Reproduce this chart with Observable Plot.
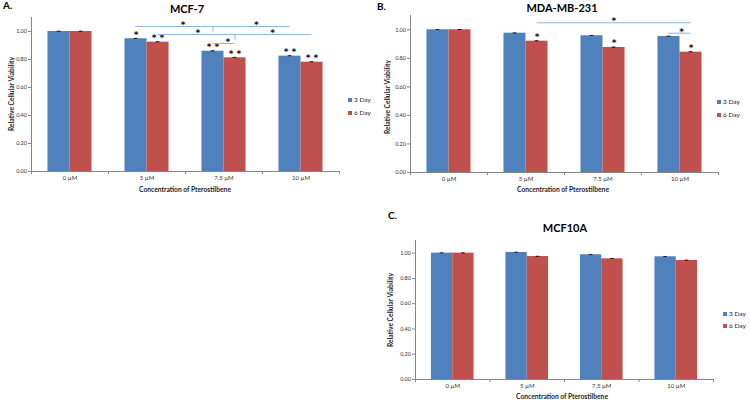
<!DOCTYPE html>
<html><head><meta charset="utf-8">
<script src="https://cdn.jsdelivr.net/npm/d3@7"></script>
<script src="https://cdn.jsdelivr.net/npm/@observablehq/plot@0.6"></script>
<style>
body{margin:0;background:#fff;}
#root{position:relative;width:750px;height:401px;overflow:hidden;font-family:Lato,"Liberation Sans",sans-serif;background:#fff;}
.panel{position:absolute;}
.t{position:absolute;white-space:nowrap;transform:translate(-50%,-50%);color:#000;line-height:1;}
.lt{position:absolute;white-space:nowrap;transform:translate(0,-50%);color:#222;font-size:6.5px;line-height:1;}
.sw{position:absolute;width:4px;height:4px;transform:translate(0,-50%);}
</style></head><body><div id="root"></div>
<script>
// ---- data ----
const concentrations = ["0 µM", "5 µM", "7.5 µM", "10 µM"];
const dayLabels = ["3 Day", "6 Day"];
const dayColors = ["#4f81bd", "#c0504d"];
const yTicks = [0, 0.2, 0.4, 0.6, 0.8, 1.0];
const yDomain = [0, 1.1];

// MCF-7
const mcf7Day3 = [1.000, 0.948, 0.859, 0.824];
const mcf7Day6 = [1.000, 0.924, 0.812, 0.781];
const mcf7Err3 = [0.002, 0.003, 0.003, 0.003];
const mcf7Err6 = [0.002, 0.003, 0.003, 0.003];
const mcf7Star3 = ["", "*", "**", "**"];
const mcf7Star6 = ["", "**", "**", "**"];
// brackets: [fromIndex, fromDay, toIndex, toDay, level, tipIndex, tipDay, tipLevel]
const mcf7Brackets = [
  [1, 0, 3, 0, 1.036, 2, 0, 0.995],
  [1, 1, 3, 1, 0.979, 2, 1, 0.936],
  [2, 0, 2, 1, 0.914, null, null, null]
];
// bracket stars: [x position (category units), level]
const mcf7BracketStars = [[1.47, 1.036], [2.42, 1.036], [1.66, 0.979], [2.63, 0.979], [2.05, 0.914]];

// MDA-MB-231
const mdaDay3 = [1.000, 0.976, 0.958, 0.953];
const mdaDay6 = [1.000, 0.920, 0.876, 0.843];
const mdaErr3 = [0.002, 0.002, 0.002, 0.002];
const mdaErr6 = [0.002, 0.003, 0.003, 0.003];
const mdaStar3 = ["", "", "", ""];
const mdaStar6 = ["", "*", "*", "*"];
const mdaBrackets = [
  [1, 1, 3, 1, 1.049, null, null, null],
  [3, 0, 3, 1, 0.976, null, null, null]
];
const mdaBracketStars = [[2.14, 1.049], [3.02, 0.976]];

// MCF10A
const mcf10aDay3 = [1.000, 1.005, 0.987, 0.971];
const mcf10aDay6 = [1.000, 0.973, 0.955, 0.942];
const mcf10aErr3 = [0.002, 0.002, 0.002, 0.002];
const mcf10aErr6 = [0.002, 0.002, 0.002, 0.002];
const mcf10aStar3 = ["", "", "", ""];
const mcf10aStar6 = ["", "", "", ""];

// ---- drawing ----
const root = document.getElementById("root");
const HALF = 0.286; // bar width in category units
const xDomain = [-0.5, concentrations.length - 0.5];
const edges = d3.range(concentrations.length + 1).map(i => i - 0.5);
const AXIS = "#868686";
const BRACKET = "#8db4e2";
const STARFONT = "'DejaVu Sans', sans-serif";
const center = (i, d) => i + (d === 0 ? -HALF / 2 : HALF / 2);

function makePanel(o) {
  const rows = [];
  concentrations.forEach((c, i) => {
    [o.day3, o.day6].forEach((arr, d) => {
      rows.push({i, d, day: dayLabels[d], value: arr[i],
        err: (d === 0 ? o.err3 : o.err6)[i],
        star: (d === 0 ? o.star3 : o.star6)[i]});
    });
  });
  const br = (o.brackets || []).map(b => ({x1: center(b[0], b[1]), x2: center(b[2], b[3]), y: b[4],
    tx: b[5] == null ? null : center(b[5], b[6]), ty: b[7]}));
  const tips = br.filter(b => b.tx != null);
  const bstars = (o.bstars || []).map(s => ({x: s[0], y: s[1]}));
  const svg = Plot.plot({
    width: o.width, height: o.height,
    marginLeft: o.m[0], marginRight: o.m[1], marginTop: o.m[2], marginBottom: o.m[3],
    style: {fontFamily: "Lato, 'Liberation Sans', sans-serif", fontSize: "6px", color: "#333", background: "transparent", overflow: "visible"},
    x: {type: "linear", domain: xDomain},
    y: {domain: yDomain},
    color: {domain: dayLabels, range: dayColors},
    marks: [
      Plot.rectY(rows, {x1: r => r.d === 0 ? r.i - HALF : r.i, x2: r => r.d === 0 ? r.i : r.i + HALF, y: "value", fill: "day"}),
      Plot.ruleX(rows, {x: r => center(r.i, r.d), y1: r => r.value - r.err, y2: r => r.value + r.err, stroke: "#000", strokeWidth: 0.8}),
      Plot.ruleY(rows, {y: r => r.value + r.err, x1: r => center(r.i, r.d) - 0.025, x2: r => center(r.i, r.d) + 0.025, stroke: "#000", strokeWidth: 0.8}),
      Plot.text(rows.filter(r => r.star), {x: r => center(r.i, r.d), y: r => r.value + r.err, text: r => r.star.split("").join(" "), dy: -3.5, fontSize: 9, fontWeight: "bold", fontFamily: STARFONT, fill: "#111", lineAnchor: "middle"}),
      Plot.ruleY(br, {x1: "x1", x2: "x2", y: "y", stroke: BRACKET, strokeWidth: 1}),
      Plot.ruleX(tips, {x: "tx", y1: "y", y2: "ty", stroke: BRACKET, strokeWidth: 1}),
      Plot.text(bstars, {x: "x", y: "y", text: () => "*", dy: -1.5, fontSize: 9, fontWeight: "bold", fontFamily: STARFONT, fill: "#111", lineAnchor: "middle"}),
      Plot.ruleY([0], {stroke: AXIS}),
      Plot.ruleX([xDomain[0]], {stroke: AXIS}),
      Plot.axisY({ticks: yTicks, tickFormat: d3.format(".2f"), tickSize: 3, tickPadding: 1.5, stroke: AXIS, label: null, fontSize: 5.5}),
      Plot.axisX({ticks: edges, tickFormat: () => "", tickSize: 3, stroke: AXIS, label: null}),
      Plot.axisX({ticks: d3.range(concentrations.length), tickFormat: i => concentrations[i], tickSize: 0, tickPadding: 4, label: null, fontSize: 6})
    ]
  });
  svg.classList.add("panel");
  svg.style.left = o.left + "px";
  svg.style.top = o.top + "px";
  root.appendChild(svg);

  const addText = (x, y, txt, css, cls = "t") => {
    const el = document.createElement("div");
    el.className = cls;
    el.textContent = txt;
    el.style.left = x + "px";
    el.style.top = y + "px";
    Object.assign(el.style, css);
    root.appendChild(el);
  };
  addText(o.letter[0], o.letter[1], o.letter[2], {fontWeight: "bold", fontSize: "10px", transform: "translate(0,-50%)"});
  addText(o.title[0], o.title[1], o.title[2], {fontWeight: "bold", fontSize: "11px"});
  addText(o.ylab[0], o.ylab[1], "Relative Cellular Viability", {fontWeight: "bold", fontSize: "6.7px", color: "#222", transform: "translate(-50%,-50%) rotate(-90deg)"});
  addText(o.xlab[0], o.xlab[1], "Concentration of Pterostilbene", {fontWeight: "bold", fontSize: "6.7px", color: "#222"});
  dayLabels.forEach((lab, k) => {
    const sw = document.createElement("div");
    sw.className = "sw";
    sw.style.left = o.legend[0] + "px";
    sw.style.top = (o.legend[1] + k * o.legend[2]) + "px";
    sw.style.background = dayColors[k];
    root.appendChild(sw);
    addText(o.legend[0] + 6, o.legend[1] + k * o.legend[2], lab, {}, "lt");
  });
}

makePanel({left: 0, top: 0, width: 375, height: 200, m: [31, 36, 17, 29],
  day3: mcf7Day3, day6: mcf7Day6, err3: mcf7Err3, err6: mcf7Err6, star3: mcf7Star3, star6: mcf7Star6,
  brackets: mcf7Brackets, bstars: mcf7BracketStars,
  letter: [3, 5, "A."], title: [187, 8, "MCF-7"], ylab: [11, 94], xlab: [185, 189], legend: [348, 100, 13]});

makePanel({left: 375, top: 0, width: 375, height: 200, m: [35, 32, 15, 28],
  day3: mdaDay3, day6: mdaDay6, err3: mdaErr3, err6: mdaErr6, star3: mdaStar3, star6: mdaStar6,
  brackets: mdaBrackets, bstars: mdaBracketStars,
  letter: [377, 6, "B."], title: [562, 6.5, "MDA-MB-231"], ylab: [387, 97], xlab: [563, 189], legend: [717, 102, 12.5]});

makePanel({left: 375, top: 200, width: 375, height: 201, m: [40, 37, 40, 22],
  day3: mcf10aDay3, day6: mcf10aDay6, err3: mcf10aErr3, err6: mcf10aErr6, star3: mcf10aStar3, star6: mcf10aStar6,
  brackets: [], bstars: [],
  letter: [388, 215, "C."], title: [565, 227, "MCF10A"], ylab: [390, 310], xlab: [562, 396], legend: [723, 314, 12]});
</script></body></html>
